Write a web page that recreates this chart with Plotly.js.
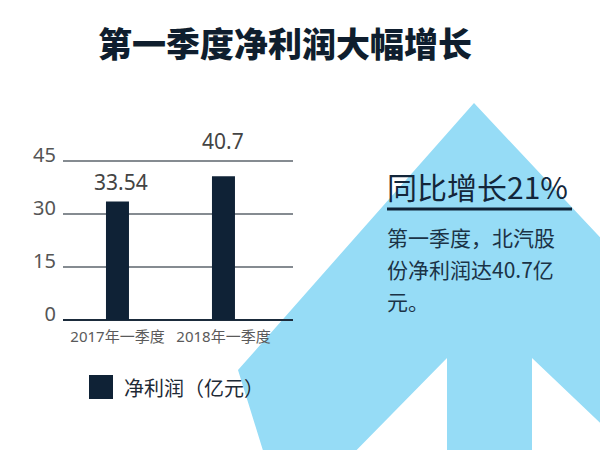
<!DOCTYPE html>
<html>
<head>
<meta charset="utf-8">
<script src="https://cdn.plot.ly/plotly-3.0.1.min.js"></script>
<style>html,body{margin:0;padding:0;background:#fff;}#chart{width:600px;height:450px;}</style>
</head>
<body>
<div id="chart"></div>
<script>
// ---- data ----
const categories = ["2017年一季度", "2018年一季度"];
const netProfit = [33.54, 40.7];
const valueLabels = ["33.54", "40.7"];
const yTickVals = [0, 15, 30, 45];
const yTickText = ["0", "15", "30", "45"];
const seriesName = "净利润（亿元）";
const titleText = "第一季度净利润大幅增长";
const growthHeadline = "同比增长21%";
const noteLines = ["第一季度，北汽股", "份净利润达40.7亿", "元。"];

// ---- layout geometry (pixels) ----
const W = 600, H = 450;
const L = 63, R = 293, B = 320, T = 157;
const ppu = (320 - 161) / 45;
const yMax = (B - T) / ppu;
const pw = R - L, ph = B - T;
const px = x => (x - L) / pw;
const py = y => (B - y) / ph;

const font = "'Noto Sans', 'Noto Sans CJK SC', sans-serif";
const cjk = "'Noto Sans CJK SC', 'Noto Sans', sans-serif";
const navy = "#0f2236";
const arrowBlue = "#96dcf6";

const arrowPts = [[474,103],[640,280],[640,461],[532,358],[532,470],[447,470],[447,358],[337,470],[269,470],[238,370]];
const arrowPath = arrowPts.map((p,i)=>(i?"L":"M")+px(p[0]).toFixed(4)+","+py(p[1]).toFixed(4)).join(" ")+" Z";

const labelShiftY = [3, 19];
const labelShiftX = [4, 0];

const annotations = [];
categories.forEach((c,i)=>{
  annotations.push({x:c, y:netProfit[i], xref:"x", yref:"y", text:valueLabels[i],
    showarrow:false, yanchor:"bottom", xanchor:"center", yshift:labelShiftY[i], xshift:labelShiftX[i],
    font:{family:font, size:21, color:"#444"}});
});
annotations.push({x:px(122), y:py(387), xref:"paper", yref:"paper", text:seriesName, showarrow:false,
  xanchor:"left", yanchor:"middle", font:{family:cjk, size:20, color:"#1e2a36"}});
annotations.push({x:px(385), y:py(186), xref:"paper", yref:"paper", text:growthHeadline, showarrow:false,
  xanchor:"left", yanchor:"middle", font:{family:cjk, size:30, color:"#13263a"}});
const noteY = [237, 269, 301];
noteLines.forEach((t,i)=>{
  annotations.push({x:px(385), y:py(noteY[i]), xref:"paper", yref:"paper", text:t, showarrow:false,
    xanchor:"left", yanchor:"middle", font:{family:cjk, size:21, color:"#1b3346"}});
});

const shapes = [
  {type:"path", xref:"paper", yref:"paper", path:arrowPath, fillcolor:arrowBlue, line:{width:0}, layer:"below"},
  {type:"line", xref:"paper", yref:"paper", x0:px(387), x1:px(572), y0:py(209), y1:py(209), line:{color:navy, width:3}},
  {type:"rect", xref:"paper", yref:"paper", x0:px(89), x1:px(113), y0:py(375), y1:py(399), fillcolor:navy, line:{width:0}}
];

const trace = {
  type:"bar", x:categories, y:netProfit, name:seriesName, width:0.217,
  marker:{color:navy}, showlegend:false, hoverinfo:"skip"
};

const layout = {
  width:W, height:H,
  margin:{l:L, r:W-R, t:T, b:H-B, pad:0},
  paper_bgcolor:"#ffffff", plot_bgcolor:"rgba(0,0,0,0)",
  title:{text:titleText, xref:"container", yref:"container", x:285/W, y:1-45/H, xanchor:"center", yanchor:"middle",
    font:{family:cjk, size:34, weight:900, color:"#0f1e2e"}},
  xaxis:{type:"category", range:[-0.514, 1.656], showgrid:false, showline:false, ticks:"",
    ticklabelstandoff:6,
    tickfont:{family:font, size:15, color:"#5a5a5a"}, fixedrange:true},
  yaxis:{range:[0, yMax], tickvals:yTickVals, ticktext:yTickText, showgrid:true, gridcolor:"#858b91", gridwidth:1.3,
    zeroline:true, zerolinecolor:"#1b2b3b", zerolinewidth:2, showline:false, ticks:"",
    ticklabelshift:-6, ticklabelstandoff:6,
    tickfont:{family:font, size:20, color:"#555"}, fixedrange:true},
  shapes:shapes, annotations:annotations, showlegend:false
};

Plotly.newPlot("chart", [trace], layout, {displayModeBar:false, staticPlot:true});
</script>
</body>
</html>
